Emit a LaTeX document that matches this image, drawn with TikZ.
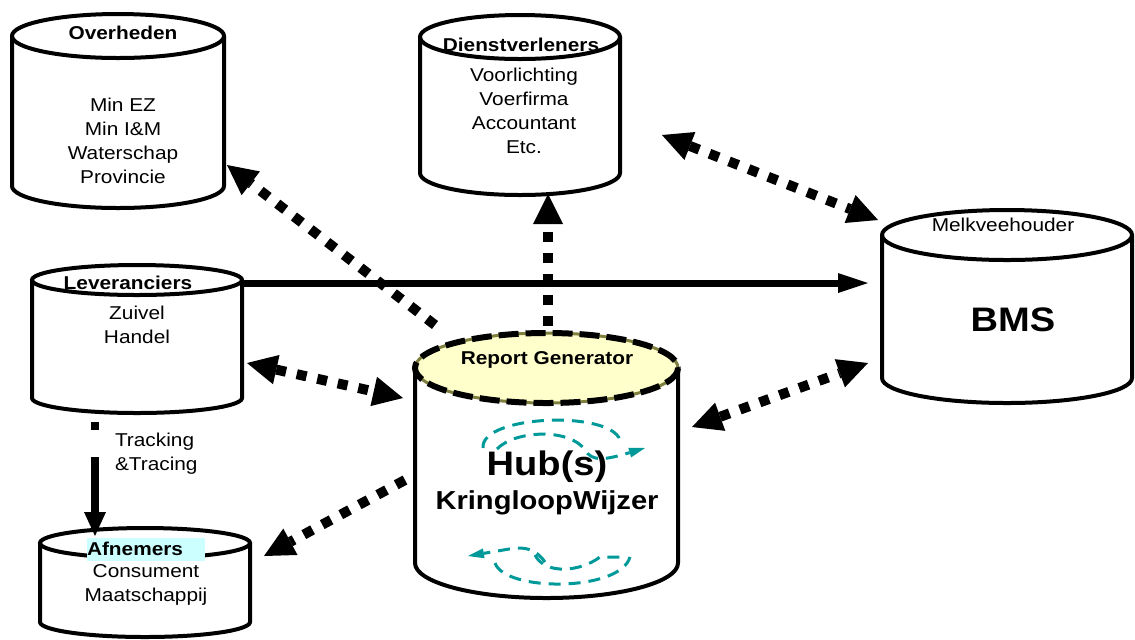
\documentclass[tikz,border=0pt]{standalone}
\usepackage{fontspec}
\setmainfont{Liberation Sans}[FakeStretch=1.12]
\usetikzlibrary{arrows.meta,calc}

\definecolor{hubtop}{RGB}{255,255,204}
\definecolor{hubrim}{RGB}{128,128,64}
\definecolor{loopteal}{RGB}{0,153,153}
\definecolor{markcyan}{RGB}{204,255,255}

\tikzset{every picture/.style={line width=2pt}}
\tikzset{
  cylbox/.style={draw=none, inner sep=0pt},
  cylline/.style={line width=2pt, line join=round},
  cyltop/.style={line width=2pt},
  hubrimtop/.style={draw=black, line width=3pt, dash pattern=on 10pt off 3.5pt,
    preaction={fill=hubtop, draw=hubrim, line width=1.5pt}},
  lbl/.style={inner sep=0pt, align=center, font=\fontsize{9.3}{12}\selectfont},
  lblb/.style={lbl, font=\fontsize{9.3}{12}\selectfont\bfseries},
  bigtip/.tip={Triangle[length=15pt,width=15pt,line width=0pt]},
  solidtip/.tip={Triangle[length=15pt,width=10pt,line width=0pt]},
  droptip/.tip={Triangle[length=12pt,width=11pt,line width=0pt]},
  looptip/.tip={Triangle[length=8pt,width=5pt,line width=0pt]},
  sqdots/.style={line width=5pt, dash pattern=on 5pt off 5.5pt},
  loopdash/.style={draw=loopteal, line width=1.5pt, dash pattern=on 6pt off 4pt},
}

% cylinder: [top style] name, cx, cy, width, height, ellipse radius
\newcommand{\cyl}[7][cyltop]{%
  \node[cylbox, minimum width=#5*0.5pt, minimum height=#6*0.5pt] (#2) at (#3,#4) {};
  \draw[cylline] (#3-#5/2,#4-#6/2+#7) -- (#3-#5/2,#4+#6/2-#7)
    arc[start angle=180, end angle=0, x radius=#5/2, y radius=#7]
    -- (#3+#5/2,#4-#6/2+#7);
  \draw[#1] (#3,#4-#6/2+#7) ellipse[x radius=#5/2, y radius=#7];
}

\begin{document}
\begin{tikzpicture}[x=0.5pt,y=0.5pt,yscale=-1]
\useasboundingbox (0,0) rectangle (1135,639);

% cylinders
\cyl{ovh}{118}{111}{212}{194}{22}
\cyl{dst}{520}{105}{200}{180}{22}
\cyl{lev}{137}{339}{210}{148}{15}
\cyl{afn}{145}{582.5}{210}{109}{15}
\cyl{bms}{1007}{306.5}{250}{193}{25}
\cyl[hubrimtop]{hub}{546.5}{465.5}{263}{265}{35}

% texts
\node[lblb] (ovh-t) at (123,33) {Overheden};
\node[lbl] (ovh-l) at (123,141) {Min EZ\\Min I\&M\\Waterschap\\Provincie};
\node[lblb] (dst-t) at (521,45) {Dienstverleners};
\node[lbl] (dst-l) at (524,111) {Voorlichting\\Voerfirma\\Accountant\\Etc.};
\node[lblb] (lev-t) at (128,283) {Leveranciers};
\node[lbl] (lev-l) at (137,325) {Zuivel\\Handel};
\node[lblb, fill=markcyan, anchor=west, text width=59pt, align=left,
  minimum height=11.5pt] (afn-t) at (85,549) {Afnemers};
\node[lbl] (afn-l) at (146,585) {Consument\\Maatschappij};
\node[lbl] (bms-t) at (1003,225) {Melkveehouder};
\node[lbl, font=\fontsize{17}{20}\selectfont\bfseries] (bms-l) at (1013,320) {BMS};
\node[lblb] (hub-t) at (547,360) {Report Generator};
\node[lbl, font=\fontsize{17}{20}\selectfont\bfseries] (hub-l) at (547,467) {Hub(s)};
\node[lbl, font=\fontsize{13}{16}\selectfont\bfseries] (hub-k) at (547,503) {KringloopWijzer};
\node[lbl, anchor=west, align=left] (trk) at (113,454) {Tracking\\\&Tracing};

% loops in the hub
\draw[loopdash] (483,448) .. controls (480,415) and (610,410) .. (620,440);
\draw[loopdash, -looptip] (497,449) .. controls (515,430) and (570,428) .. (585,450)
  .. controls (592,462) and (605,460) .. (645,448);
\draw[loopdash, -looptip] (545,562) .. controls (535,548) and (525,548) .. (515,548) -- (468,556);
\draw[loopdash] (495,563) .. controls (505,592) and (620,592) .. (630,557);
\draw[loopdash] (535,555) .. controls (545,575) and (580,572) .. (600,557) -- (627,557);

% connectors
\draw[sqdots, -bigtip] ([shift={(22,-6)}]hub.north west) -- ([shift={(1,54)}]ovh.east);
\draw[sqdots, -bigtip] ([shift={(1.5,-5)}]hub.north) -- ([shift={(28,-3)}]dst.south);
\draw[sqdots, bigtip-bigtip] ([shift={(40,30)}]dst.east) -- ([shift={(-2,12)}]bms.north west);
\draw[line width=3.5pt, -solidtip] ([shift={(0,-56)}]lev.east) -- ([shift={(-12,-23.5)}]bms.west);
\draw[sqdots, bigtip-bigtip] ([shift={(3,24)}]lev.east) -- ([shift={(-10,-67.5)}]hub.west);
\draw[sqdots, bigtip-bigtip] ([shift={(12,-38.5)}]hub.east) -- ([shift={(-12,56.5)}]bms.west);
\draw[sqdots, -bigtip] ([shift={(-8,14.5)}]hub.west) -- ([shift={(12,30)}]afn.north east);
\draw[line width=4pt, dash pattern=on 4pt off 13.5pt on 100pt, -droptip]
  ([shift={(-42,7)}]lev.south) -- ([shift={(-50,10)}]afn.north);

\end{tikzpicture}
\end{document}
